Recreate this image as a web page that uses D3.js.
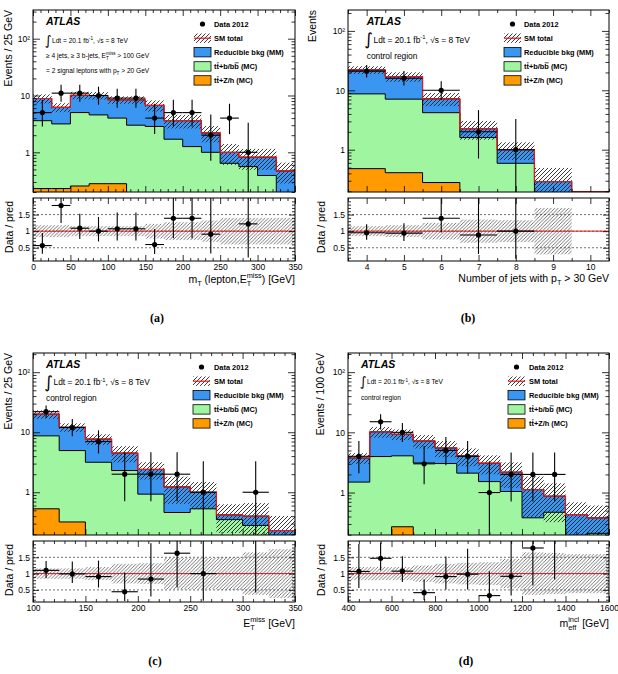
<!DOCTYPE html>
<html>
<head>
<meta charset="utf-8">
<script src="https://cdn.jsdelivr.net/npm/d3@7"></script>
<style>
body { margin: 0; background: #fff; }
svg { display: block; font-family: "Liberation Sans", Arial, Helvetica, sans-serif; }
</style>
</head>
<body>
<script>
// ---- data ----
// (a) mT(lepton, MET)
const edgesA  = [0, 25, 50, 75, 100, 125, 150, 175, 200, 225, 250, 275, 300, 325, 350];
const orangeA = [0.23, 0.23, 0.255, 0.28, 0.28, 0, 0, 0, 0, 0, 0, 0, 0, 0];
const greenA  = [3.37, 2.93, 4.75, 4.27, 3.72, 3.0, 2.85, 1.7, 1.26, 1.0, 0.64, 0.56, 0.39, 0];
const blueA   = [5.25, 3.04, 5.1, 5.45, 4.4, 5.4, 3.85, 1.9, 2.34, 1.2, 0.36, 0.26, 0.43, 0.47];
const dataA   = [5, 11, 11, 10, 9, 9, 4, 5, 5, 2, 4, 1, 0, 0];
const uncA    = [0.18, 0.18, 0.15, 0.15, 0.15, 0.15, 0.22, 0.27, 0.27, 0.32, 0.4, 0.4, 0.4, 0.4];
const ticksA  = [0, 50, 100, 150, 200, 250, 300, 350];

// (b) jet multiplicity
const edgesB  = [3.5, 4.5, 5.5, 6.5, 7.5, 8.5, 9.5, 10.5];
const orangeB = [0.48, 0.41, 0.28, 0, 0, 0, 0];
const greenB  = [8.22, 6.69, 3.92, 1.6, 0.59, 0, 0];
const blueB   = [13.4, 9.9, 3.0, 0.66, 0.41, 0.29, 0];
const dataB   = [21, 16, 10, 2, 1, 0, 0];
const uncB    = [0.15, 0.18, 0.25, 0.35, 0.33, 0.7, 0];
const ticksB  = [4, 5, 6, 7, 8, 9, 10];

// (c) MET
const edgesC  = [100, 125, 150, 175, 200, 225, 250, 275, 300, 325, 350];
const orangeC = [0.53, 0.32, 0, 0, 0, 0, 0, 0, 0, 0];
const greenC  = [8.17, 4.63, 3.16, 2.3, 0.93, 0.46, 0.53, 0.35, 0.28, 0];
const blueC   = [11.3, 7.15, 4.54, 2.2, 1.47, 0.77, 0.47, 0.07, 0.12, 0.23];
const dataC   = [22, 12, 7, 2, 2, 2, 1, 0, 1, 0];
const uncC    = [0.16, 0.16, 0.2, 0.3, 0.32, 0.48, 0.48, 0.5, 0.65, 0.75];
const ticksC  = [100, 150, 200, 250, 300, 350];

// (d) meff incl
const edgesD  = [400, 500, 600, 700, 800, 900, 1000, 1100, 1200, 1300, 1400, 1500, 1600];
const orangeD = [0, 0, 0.27, 0, 0, 0, 0, 0, 0, 0, 0, 0];
const greenD  = [1.49, 3.96, 3.8, 3.1, 3.03, 2.1, 1.52, 1.04, 0.38, 0.47, 0, 0.21];
const blueD   = [2.26, 6.24, 5.23, 4.1, 2.47, 1.97, 1.55, 1.14, 0.74, 0.40, 0.43, 0.17];
const dataD   = [4, 15, 10, 3, 5, 4, 1, 2, 2, 2, 0, 0];
const uncD    = [0.2, 0.2, 0.2, 0.25, 0.3, 0.33, 0.35, 0.45, 0.65, 0.63, 0.6, 0.6];
const ticksD  = [400, 600, 800, 1000, 1200, 1400, 1600];

// legend labels; the listed character positions carry an overbar (anti-quarks)
const legendLabels = ['Data 2012', 'SM total', 'Reducible bkg (MM)', 'tt+b/bb (MC)', 'tt+Z/h (MC)'];
const legendBars = [[], [], [], [1, 6], [1]];

// 68% Poisson (Garwood) intervals, indexed by count
const poissonInt = [[0, 1.84], [0.17, 3.30], [0.71, 4.64], [1.37, 5.92], [2.09, 7.16], [2.84, 8.38],
  [3.62, 9.58], [4.42, 10.77], [5.23, 11.95], [6.06, 13.11], [6.89, 14.27], [7.73, 15.42],
  [8.58, 16.56], [9.43, 17.70], [10.29, 18.83], [11.15, 19.96], [12.01, 21.08], [12.88, 22.20],
  [13.76, 23.32], [14.63, 24.44], [15.51, 25.55], [16.40, 26.66], [17.28, 27.76], [18.2, 28.9]];

const colBlue = '#3a96f0', colGreen = '#a0f5a0', colOrange = '#ff9a00', colRed = '#e8141c';

const svg = d3.select('body').append('svg').attr('width', 618).attr('height', 674);
const defs = svg.append('defs');

function hatch(id, color, w, s) {
  const p = defs.append('pattern').attr('id', id).attr('patternUnits', 'userSpaceOnUse')
    .attr('width', s).attr('height', s);
  p.append('path').attr('d', `M-1,1 L1,-1 M0,${s} L${s},0 M${s - 1},${s + 1} L${s + 1},${s - 1}`)
    .attr('stroke', color).attr('stroke-width', w);
}
hatch('hatchSM', '#1a1a1a', 0.85, 4);
hatch('hatchR', '#555', 0.8, 3.5);

// text with ROOT-like sub/superscripts
function rich(g, x, y, parts, fs) {
  const t = g.append('text').attr('x', x).attr('y', y).attr('font-size', fs);
  let shift = 0;
  const put = (s, target, size) => {
    const ts = t.append('tspan').attr('dy', target - shift).attr('font-size', size).text(s);
    shift = target;
    return ts;
  };
  parts.forEach(p => {
    if (typeof p === 'string') put(p, 0, fs);
    else if (p[0] === '_') put(p[1], fs * 0.3, fs * 0.7);
    else if (p[0] === '^') put(p[1], -fs * 0.42, fs * 0.7);
    else {
      const a = put(p[1], fs * 0.3, fs * 0.7);
      const w = a.node().getComputedTextLength();
      put(p[2], -fs * 0.45, fs * 0.7).attr('dx', -w);
    }
  });
  return t;
}

const panels = [
  { id: 'a', edges: edgesA, orange: orangeA, green: greenA, blue: blueA, data: dataA, unc: uncA, ticks: ticksA,
    minor: 10, x0: 33, x1: 295, mTop: 10, mBot: 192, rTop: 198, rBot: 261, yDom: [0.2, 320], rDom: [0.1, 2.0],
    yTitle: 'Events / 25 GeV', yTitleX: 12, rTitleX: 12.5, xTitleY: 283, caption: '(a)', capX: 157, capY: 322,
    xTitle: ['m', ['_', 'T'], ' (lepton,E', ['_^', 'T', 'miss'], ') [GeV]'],
    atlas: [13, 15], integ: [19, 32.7, 6.6],
    extra: [[['\u2265 4 jets, \u2265 3 b-jets, E', ['_^', 'T', 'miss'], ' > 100 GeV'], 48.3],
            [['= 2 signal leptons with p', ['_', 'T'], ' > 20 GeV'], 62.7]], extraFs: 6.6,
    legBox: 161, legText: 181 },
  { id: 'b', edges: edgesB, orange: orangeB, green: greenB, blue: blueB, data: dataB, unc: uncB, ticks: ticksB,
    minor: 0.5, x0: 348, x1: 609, mTop: 10, mBot: 192, rTop: 198, rBot: 261, yDom: [0.194, 225], rDom: [0.1, 2.0],
    yTitle: 'Events', yTitleX: 316, rTitleX: 325, xTitleY: 282, caption: '(b)', capX: 468, capY: 322,
    xTitle: ['Number of jets with p', ['_', 'T'], ' > 30 GeV'],
    atlas: [18.7, 15], integ: [25.5, 32.5, 8.4],
    extra: [[['control region'], 48.5]], extraFs: 8.4,
    legBox: 156, legText: 176 },
  { id: 'c', edges: edgesC, orange: orangeC, green: greenC, blue: blueC, data: dataC, unc: uncC, ticks: ticksC,
    minor: 10, x0: 33, x1: 295, mTop: 353, mBot: 535, rTop: 541, rBot: 602, yDom: [0.194, 209], rDom: [0.13, 2.0],
    yTitle: 'Events / 25 GeV', yTitleX: 12, rTitleX: 12.5, xTitleY: 627, caption: '(c)', capX: 155, capY: 665,
    xTitle: ['E', ['_^', 'T', 'miss'], ' [GeV]'],
    atlas: [13, 15.3], integ: [20.5, 32.3, 8.4],
    extra: [[['control region'], 47.8]], extraFs: 8.4,
    legBox: 160, legText: 181 },
  { id: 'd', edges: edgesD, orange: orangeD, green: greenD, blue: blueD, data: dataD, unc: uncD, ticks: ticksD,
    minor: 50, x0: 348, x1: 609, mTop: 353, mBot: 535, rTop: 541, rBot: 602, yDom: [0.197, 208], rDom: [0.13, 2.0],
    yTitle: 'Events / 100 GeV', yTitleX: 324, rTitleX: 325, xTitleY: 627, caption: '(d)', capX: 466, capY: 665,
    xTitle: ['m', ['_^', 'eff', 'incl'], ' [GeV]'],
    atlas: [13, 15], integ: [19, 31.3, 6.6],
    extra: [[['control region'], 47]], extraFs: 6.6,
    legBox: 160, legText: 181 }
];

function styleAxis(g, fs) {
  g.attr('font-family', null).attr('font-size', fs);
  g.select('.domain').remove();
  g.selectAll('.tick line').attr('stroke', '#000').attr('stroke-width', 0.8);
}

function drawPanel(p) {
  const x = d3.scaleLinear().domain([p.edges[0], p.edges[p.edges.length - 1]]).range([p.x0, p.x1]);
  const y = d3.scaleLog().domain(p.yDom).range([p.mBot, p.mTop]);
  const r = d3.scaleLinear().domain(p.rDom).range([p.rBot, p.rTop]);
  const cumO = p.orange;
  const cumG = p.orange.map((v, i) => v + p.green[i]);
  const tot = cumG.map((v, i) => v + p.blue[i]);
  const low = p.mBot + 20;
  const ly = v => v > 0 ? y(v) : low;

  defs.append('clipPath').attr('id', 'cm' + p.id).append('rect')
    .attr('x', p.x0).attr('y', p.mTop).attr('width', p.x1 - p.x0).attr('height', p.mBot - p.mTop);
  defs.append('clipPath').attr('id', 'cr' + p.id).append('rect')
    .attr('x', p.x0).attr('y', p.rTop).attr('width', p.x1 - p.x0).attr('height', p.rBot - p.rTop);

  // ---- main plot ----
  const gm = svg.append('g').attr('clip-path', `url(#cm${p.id})`);
  const stepArea = vals => {
    let d = `M${x(p.edges[0])},${low}`;
    vals.forEach((v, i) => { d += `V${ly(v)}H${x(p.edges[i + 1])}`; });
    return d + `V${low}Z`;
  };
  [[tot, colBlue], [cumG, colGreen], [cumO, colOrange]].forEach(([vals, c]) => {
    gm.append('path').attr('d', stepArea(vals)).attr('fill', c).attr('stroke', '#000').attr('stroke-width', 1);
  });

  const bins = tot.map((t, i) => ({ t, i, e: p.unc[i], lo: p.edges[i], hi: p.edges[i + 1], n: p.data[i] }));

  gm.selectAll('rect.band').data(bins.filter(b => b.t > 0)).join('rect').attr('class', 'band')
    .attr('x', b => x(b.lo)).attr('width', b => x(b.hi) - x(b.lo))
    .attr('y', b => y(b.t * (1 + b.e)))
    .attr('height', b => ly(b.t * (1 - b.e)) - y(b.t * (1 + b.e)))
    .attr('fill', 'url(#hatchSM)');

  let red = `M${x(p.edges[0])},${tot[0] > 0 ? y(tot[0]) : p.mBot - 0.5}`;
  tot.forEach((v, i) => { red += `V${v > 0 ? y(v) : p.mBot - 0.5}H${x(p.edges[i + 1])}`; });
  gm.append('path').attr('d', red).attr('fill', 'none').attr('stroke', colRed).attr('stroke-width', 1.2);

  const pts = bins.filter(b => b.n > 0);
  const dg = gm.append('g');
  pts.forEach(b => {
    const cx = x((b.lo + b.hi) / 2), cy = y(b.n);
    const [plo, phi] = poissonInt[b.n];
    dg.append('line').attr('x1', cx).attr('x2', cx).attr('y1', y(phi)).attr('y2', y(plo)).attr('stroke', '#000').attr('stroke-width', 1.1);
    dg.append('line').attr('x1', x(b.lo)).attr('x2', x(b.hi)).attr('y1', cy).attr('y2', cy).attr('stroke', '#000').attr('stroke-width', 1.1);
    dg.append('circle').attr('cx', cx).attr('cy', cy).attr('r', 2.6).attr('fill', '#000');
  });

  // ---- ratio plot ----
  const gr = svg.append('g').attr('clip-path', `url(#cr${p.id})`);
  gr.selectAll('rect.rband').data(bins.filter(b => b.t > 0)).join('rect').attr('class', 'rband')
    .attr('x', b => x(b.lo)).attr('width', b => x(b.hi) - x(b.lo))
    .attr('y', b => r(1 + b.e)).attr('height', b => r(1 - b.e) - r(1 + b.e))
    .attr('fill', 'url(#hatchR)');
  [0.5, 1, 1.5].forEach(v => {
    gr.append('line').attr('x1', p.x0).attr('x2', p.x1).attr('y1', r(v)).attr('y2', r(v))
      .attr('stroke', '#333').attr('stroke-width', 0.7).attr('stroke-dasharray', '2,2');
  });
  gr.append('line').attr('x1', p.x0).attr('x2', p.x1).attr('y1', r(1)).attr('y2', r(1))
    .attr('stroke', colRed).attr('stroke-width', 1);
  pts.filter(b => b.t > 0).forEach(b => {
    const cx = x((b.lo + b.hi) / 2), v = b.n / b.t;
    const [plo, phi] = poissonInt[b.n];
    gr.append('line').attr('x1', cx).attr('x2', cx).attr('y1', r(phi / b.t)).attr('y2', r(plo / b.t)).attr('stroke', '#000').attr('stroke-width', 1.1);
    gr.append('line').attr('x1', x(b.lo)).attr('x2', x(b.hi)).attr('y1', r(v)).attr('y2', r(v)).attr('stroke', '#000').attr('stroke-width', 1.1);
    gr.append('circle').attr('cx', cx).attr('cy', r(v)).attr('r', 2.6).attr('fill', '#000');
  });

  // ---- frames & axes ----
  [[p.mTop, p.mBot], [p.rTop, p.rBot]].forEach(([t, bt]) => {
    svg.append('rect').attr('x', p.x0).attr('y', t).attr('width', p.x1 - p.x0).attr('height', bt - t)
      .attr('fill', 'none').attr('stroke', '#000').attr('stroke-width', 1);
  });

  const xd = x.domain();
  const minorX = d3.range(xd[0], xd[1] + 1e-9, p.minor).filter(v => !p.ticks.some(t => Math.abs(t - v) < 1e-9));
  const xAxes = [[p.mBot, d3.axisBottom, false], [p.mTop, d3.axisTop, false],
                 [p.rBot, d3.axisBottom, true], [p.rTop, d3.axisTop, false]];
  xAxes.forEach(([yy, fn, lab]) => {
    const g1 = svg.append('g').attr('transform', `translate(0,${yy})`)
      .call(fn(x).tickValues(p.ticks).tickSize(-6).tickPadding(3).tickFormat(lab ? d3.format('') : () => ''));
    styleAxis(g1, 8.5);
    const g2 = svg.append('g').attr('transform', `translate(0,${yy})`)
      .call(fn(x).tickValues(minorX).tickSize(-3).tickFormat(() => ''));
    styleAxis(g2, 8.5);
  });

  const majorY = [1, 10, 100];
  const minorY = [];
  [0.1, 1, 10, 100].forEach(dec => { for (let k = 2; k <= 9; k++) minorY.push(k * dec); });
  const minorYv = minorY.filter(v => v >= p.yDom[0] && v <= p.yDom[1]);
  const rMajor = [0.5, 1, 1.5];
  const rMinor = d3.range(2, 20).map(k => k / 10).filter(v => v >= p.rDom[0] && v <= p.rDom[1] && !rMajor.includes(v));

  [[p.x0, d3.axisLeft, true], [p.x1, d3.axisRight, false]].forEach(([xx, fn, lab]) => {
    const g = svg.append('g').attr('transform', `translate(${xx},0)`);
    styleAxis(g.append('g').call(fn(y).tickValues(majorY).tickSize(-7).tickPadding(3)
      .tickFormat(lab ? (d => d === 100 ? '10\u00b2' : String(d)) : () => '')), 8.5);
    styleAxis(g.append('g').call(fn(y).tickValues(minorYv).tickSize(-3.5).tickFormat(() => '')), 8.5);
    styleAxis(g.append('g').call(fn(r).tickValues(rMajor).tickSize(-6).tickPadding(3)
      .tickFormat(lab ? d3.format('') : () => '')), 8.5);
    styleAxis(g.append('g').call(fn(r).tickValues(rMinor).tickSize(-3).tickFormat(() => '')), 8.5);
  });

  // ---- titles ----
  svg.append('text').attr('transform', `translate(${p.yTitleX},${p.mTop}) rotate(-90)`)
    .attr('text-anchor', 'end').attr('font-size', 10.5).text(p.yTitle);
  svg.append('text').attr('transform', `translate(${p.rTitleX},${p.rTop + 3}) rotate(-90)`)
    .attr('text-anchor', 'end').attr('font-size', 10.5).text('Data / pred');
  rich(svg, p.x1, p.xTitleY, p.xTitle, 10.5).attr('text-anchor', 'end');
  svg.append('text').attr('x', p.capX).attr('y', p.capY).attr('text-anchor', 'middle')
    .attr('font-family', '"Liberation Serif", "DejaVu Serif", serif').attr('font-weight', 'bold')
    .attr('font-size', 12).text(p.caption);

  // ---- labels inside plot ----
  const gt = svg.append('g').attr('transform', `translate(${p.x0},${p.mTop})`);
  gt.append('text').attr('x', p.atlas[0]).attr('y', p.atlas[1]).attr('font-size', 10.5)
    .attr('font-weight', 'bold').attr('font-style', 'italic').text('ATLAS');
  const [ix, iy, ifs] = p.integ;
  gt.append('text').attr('x', ix - ifs * 1.1).attr('y', iy + ifs * 0.3).attr('font-size', ifs * 2)
    .attr('font-family', '"DejaVu Sans", sans-serif').text('\u222b');
  rich(gt, ix, iy, ['Ldt = 20.1 fb', ['^', '-1'], ', \u221as = 8 TeV'], ifs);
  p.extra.forEach(([parts, yy]) => rich(gt, p.atlas[0], yy, parts, p.extraFs));

  // ---- legend ----
  const rows = [14, 28.2, 42.2, 56.4, 70.4];
  const gl = gt.append('g');
  gl.append('circle').attr('cx', p.legBox + 8.5).attr('cy', rows[0]).attr('r', 2.6).attr('fill', '#000');
  gl.append('rect').attr('x', p.legBox).attr('y', rows[1] - 4.7).attr('width', 17).attr('height', 9.4)
    .attr('fill', 'url(#hatchSM)');
  gl.append('line').attr('x1', p.legBox).attr('x2', p.legBox + 17).attr('y1', rows[1]).attr('y2', rows[1])
    .attr('stroke', colRed).attr('stroke-width', 1.2);
  [colBlue, colGreen, colOrange].forEach((c, k) => {
    gl.append('rect').attr('x', p.legBox).attr('y', rows[k + 2] - 4.7).attr('width', 17).attr('height', 9.4)
      .attr('fill', c).attr('stroke', '#000').attr('stroke-width', 0.8);
  });
  legendLabels.forEach((t, k) => {
    const tx = gl.append('text').attr('x', p.legText).attr('y', rows[k] + 2.7).attr('font-size', 7.4)
      .attr('font-weight', 'bold').text(t);
    legendBars[k].forEach(ci => {
      const a = tx.node().getStartPositionOfChar(ci).x, b = tx.node().getEndPositionOfChar(ci).x;
      gl.append('line').attr('x1', a + 0.4).attr('x2', b - 0.2).attr('y1', rows[k] - 3.6).attr('y2', rows[k] - 3.6)
        .attr('stroke', '#000').attr('stroke-width', 0.7);
    });
  });
}

panels.forEach(drawPanel);
</script>
</body>
</html>
